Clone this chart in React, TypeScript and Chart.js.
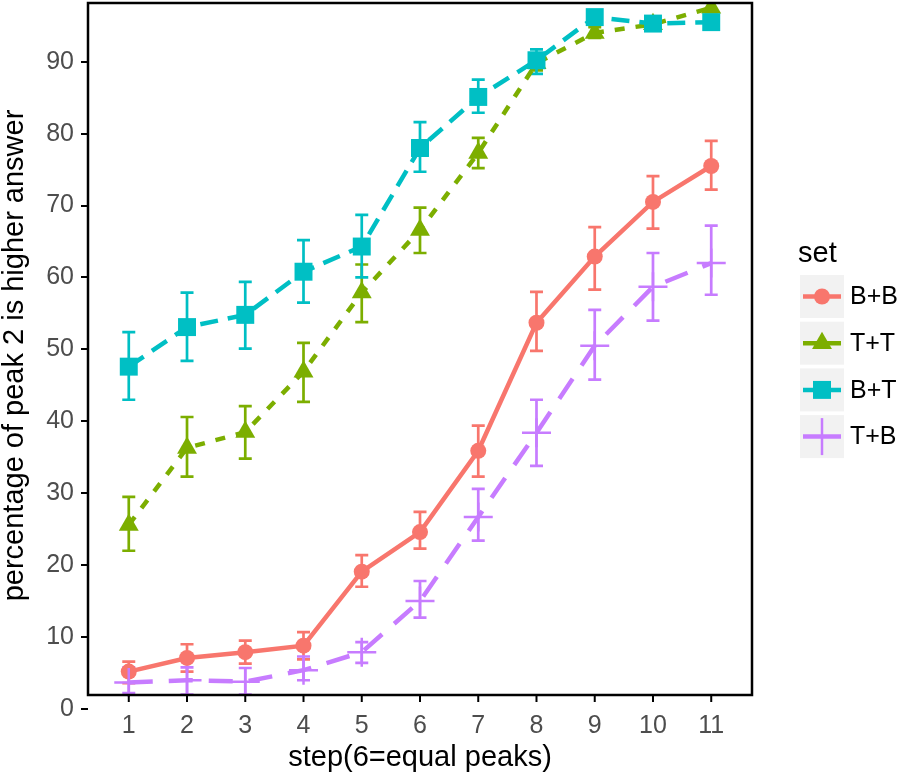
import React, { useEffect, useRef } from "react";
import { Chart, registerables } from "chart.js";

Chart.register(...registerables);

const STEPS = [1, 2, 3, 4, 5, 6, 7, 8, 9, 10, 11];
const Y_TICKS = [0, 10, 20, 30, 40, 50, 60, 70, 80, 90];
const SERIES_NAMES = ["B+B", "T+T", "B+T", "T+B"];
const X_TITLE = "step(6=equal peaks)";
const Y_TITLE = "percentage of peak 2 is higher answer";
const LEGEND_TITLE = "set";

const BB_MEAN = [5.2, 7.1, 7.9, 8.8, 19.1, 24.6, 35.9, 53.7, 62.9, 70.5, 75.5];
const BB_LOW = [3.6, 5.2, 6.3, 6.9, 17.0, 22.3, 32.3, 49.8, 58.3, 66.8, 72.2];
const BB_HIGH = [6.6, 9.0, 9.5, 10.7, 21.4, 27.4, 39.4, 58.0, 67.0, 74.1, 79.0];

const TT_MEAN = [25.6, 36.3, 38.5, 46.9, 57.9, 66.6, 77.3, 89.8, 94.0, 95.2, 97.5];
const TT_LOW = [22.0, 32.3, 34.8, 42.7, 53.8, 63.4, 75.2, 88.8, 93.3, 94.5, 96.9];
const TT_HIGH = [29.5, 40.6, 42.1, 50.9, 61.8, 69.7, 79.4, 90.9, 94.8, 96.0, 98.2];

const BT_MEAN = [47.6, 53.1, 54.8, 60.8, 64.3, 78.0, 85.1, 90.2, 96.2, 95.3, 95.5];
const BT_LOW = [43.0, 48.4, 50.1, 56.5, 60.0, 74.7, 82.9, 88.3, 95.5, 94.6, 94.8];
const BT_HIGH = [52.4, 57.9, 59.4, 65.2, 68.7, 81.6, 87.5, 91.7, 96.9, 96.0, 96.2];

const TB_MEAN = [3.7, 4.0, 3.8, 5.4, 7.9, 15.0, 26.7, 38.4, 50.5, 58.7, 62.0];
const TB_LOW = [2.2, 2.0, 2.0, 4.0, 6.4, 12.7, 23.4, 33.8, 45.8, 54.0, 57.6];
const TB_HIGH = [5.8, 5.8, 5.7, 7.3, 9.3, 17.8, 30.6, 43.0, 55.5, 63.4, 67.2];

const MEANS = [BB_MEAN, TT_MEAN, BT_MEAN, TB_MEAN];
const LOWS = [BB_LOW, TT_LOW, BT_LOW, TB_LOW];
const HIGHS = [BB_HIGH, TT_HIGH, BT_HIGH, TB_HIGH];

const COLORS = ["#F8766D", "#7CAE00", "#00BFC4", "#C77CFF"];
const DASHES: number[][] = [[], [10, 11], [18, 10], [24, 16]];
const POINT_STYLES = ["circle", "triangle", "rect", "cross"];
const POINT_RADII = [8, 11.5, 12.7, 14.5];

const FONT = "'Liberation Sans', Arial, sans-serif";

function drawMarker(ctx: CanvasRenderingContext2D, style: string, x: number, y: number, r: number, color: string) {
  ctx.save();
  ctx.fillStyle = color;
  ctx.strokeStyle = color;
  ctx.beginPath();
  if (style === "circle") {
    ctx.arc(x, y, r, 0, Math.PI * 2);
    ctx.fill();
  } else if (style === "triangle") {
    ctx.moveTo(x, y - r);
    ctx.lineTo(x + r * 0.866, y + r * 0.5);
    ctx.lineTo(x - r * 0.866, y + r * 0.5);
    ctx.closePath();
    ctx.fill();
  } else if (style === "rect") {
    const s = r * Math.SQRT1_2;
    ctx.rect(x - s, y - s, 2 * s, 2 * s);
    ctx.fill();
  } else {
    ctx.lineWidth = 2.5;
    ctx.moveTo(x - r, y);
    ctx.lineTo(x + r, y);
    ctx.moveTo(x, y - r);
    ctx.lineTo(x, y + r);
    ctx.stroke();
  }
  ctx.restore();
}

const errorBarPlugin = {
  id: "errorBars",
  beforeDatasetsDraw(chart: any) {
    const ctx: CanvasRenderingContext2D = chart.ctx;
    const xs = chart.scales.x;
    const ys = chart.scales.y;
    const area = chart.chartArea;
    ctx.save();
    ctx.beginPath();
    ctx.rect(area.left, area.top, area.right - area.left, area.bottom - 14 - area.top);
    ctx.clip();
    ctx.lineWidth = 2.7;
    for (let s = 0; s < MEANS.length; s++) {
      ctx.strokeStyle = COLORS[s];
      for (let i = 0; i < STEPS.length; i++) {
        const px = xs.getPixelForValue(STEPS[i]);
        const lo = ys.getPixelForValue(LOWS[s][i]);
        const hi = ys.getPixelForValue(HIGHS[s][i]);
        ctx.beginPath();
        ctx.moveTo(px, lo);
        ctx.lineTo(px, hi);
        ctx.moveTo(px - 6.5, lo);
        ctx.lineTo(px + 6.5, lo);
        ctx.moveTo(px - 6.5, hi);
        ctx.lineTo(px + 6.5, hi);
        ctx.stroke();
      }
    }
    ctx.restore();
  },
};

const framePlugin = {
  id: "frame",
  afterDraw(chart: any) {
    const ctx: CanvasRenderingContext2D = chart.ctx;
    const area = chart.chartArea;
    const xs = chart.scales.x;
    const bottom = area.bottom - 14;
    ctx.save();
    ctx.strokeStyle = "#000000";
    ctx.lineWidth = 2.5;
    ctx.beginPath();
    ctx.moveTo(area.left, area.top + 1);
    ctx.lineTo(area.right, area.top + 1);
    ctx.lineTo(area.right, bottom);
    ctx.lineTo(area.left, bottom);
    ctx.closePath();
    ctx.stroke();
    ctx.lineWidth = 2;
    for (const v of STEPS) {
      const px = xs.getPixelForValue(v);
      ctx.beginPath();
      ctx.moveTo(px, bottom);
      ctx.lineTo(px, bottom + 7);
      ctx.stroke();
    }

    // legend
    const lx = 800;
    ctx.fillStyle = "#000000";
    ctx.font = `29px ${FONT}`;
    ctx.textBaseline = "alphabetic";
    ctx.textAlign = "left";
    ctx.fillText(LEGEND_TITLE, lx - 2, 262);
    const keyW = 44;
    const keyH = 43;
    const gap = 46.7;
    for (let s = 0; s < SERIES_NAMES.length; s++) {
      const top = 275 + s * gap;
      const cy = top + keyH / 2;
      ctx.fillStyle = "#F2F2F2";
      ctx.fillRect(lx, top, keyW, keyH);
      ctx.strokeStyle = COLORS[s];
      ctx.lineWidth = 4.5;
      ctx.beginPath();
      ctx.moveTo(lx + 3, cy);
      ctx.lineTo(lx + keyW - 3, cy);
      ctx.stroke();
      if (POINT_STYLES[s] === "cross") {
        ctx.lineWidth = 2.5;
        ctx.beginPath();
        ctx.moveTo(lx + keyW / 2, top + 3);
        ctx.lineTo(lx + keyW / 2, top + keyH - 3);
        ctx.stroke();
      } else {
        drawMarker(ctx, POINT_STYLES[s], lx + keyW / 2, cy, POINT_RADII[s], COLORS[s]);
      }
      ctx.fillStyle = "#000000";
      ctx.font = `25px ${FONT}`;
      ctx.textBaseline = "middle";
      ctx.fillText(SERIES_NAMES[s], lx + keyW + 6, cy + 1);
    }
    ctx.restore();
  },
};

export default function App() {
  const ref = useRef<HTMLCanvasElement | null>(null);
  useEffect(() => {
    document.body.style.margin = "0";
    const canvas = ref.current;
    if (!canvas) return;
    const datasets = SERIES_NAMES.map((name, s) => ({
      label: name,
      data: STEPS.map((x, i) => ({ x, y: MEANS[s][i] })),
      borderColor: COLORS[s],
      backgroundColor: COLORS[s],
      borderWidth: 4.5,
      borderDash: DASHES[s],
      pointStyle: POINT_STYLES[s],
      pointRadius: POINT_RADII[s],
      pointBorderWidth: POINT_STYLES[s] === "cross" ? 2.5 : 0,
      pointBackgroundColor: COLORS[s],
      pointBorderColor: COLORS[s],
      tension: 0,
      fill: false,
      order: SERIES_NAMES.length - s,
    }));
    const chart = new Chart(canvas, {
      type: "line",
      data: { datasets },
      options: {
        animation: false,
        responsive: false,
        events: [],
        layout: { autoPadding: false, padding: { top: 2, right: 148, left: 0, bottom: 0 } },
        plugins: { legend: { display: false }, tooltip: { enabled: false } },
        scales: {
          x: {
            type: "linear",
            min: 0.3,
            max: 11.7,
            afterBuildTicks: (s: any) => {
              s.ticks = STEPS.map((v) => ({ value: v }));
            },
            afterFit: (s: any) => {
              s.height = 69;
              s.paddingLeft = 0;
              s.paddingRight = 0;
              s.paddingTop = 0;
              s.paddingBottom = 0;
            },
            ticks: {
              color: "#4D4D4D",
              font: { size: 25, family: FONT },
              padding: -6,
              autoSkip: false,
              maxRotation: 0,
            },
            grid: { display: false },
            border: { display: false },
            title: {
              display: true,
              text: X_TITLE,
              color: "#000000",
              font: { size: 29, family: FONT, lineHeight: 1.0 },
              padding: { top: 0, bottom: 6 },
            },
          },
          y: {
            type: "linear",
            min: 0,
            max: 98.3,
            afterBuildTicks: (s: any) => {
              s.ticks = Y_TICKS.map((v) => ({ value: v }));
            },
            afterFit: (s: any) => {
              s.width = 88;
              s.paddingLeft = 0;
              s.paddingRight = 0;
              s.paddingTop = 0;
              s.paddingBottom = 0;
            },
            ticks: {
              color: "#4D4D4D",
              font: { size: 25, family: FONT },
              padding: 7,
            },
            grid: {
              display: true,
              drawOnChartArea: false,
              drawTicks: true,
              tickLength: 7,
              color: "#000000",
              lineWidth: 2,
            },
            border: { display: false },
            title: {
              display: true,
              text: Y_TITLE,
              color: "#000000",
              font: { size: 29, family: FONT, lineHeight: 1.0 },
              padding: { top: 0, bottom: 0 },
            },
          },
        },
      },
      plugins: [errorBarPlugin, framePlugin],
    });
    return () => chart.destroy();
  }, []);
  return <canvas ref={ref} width={900} height={778} style={{ display: "block" }} />;
}
